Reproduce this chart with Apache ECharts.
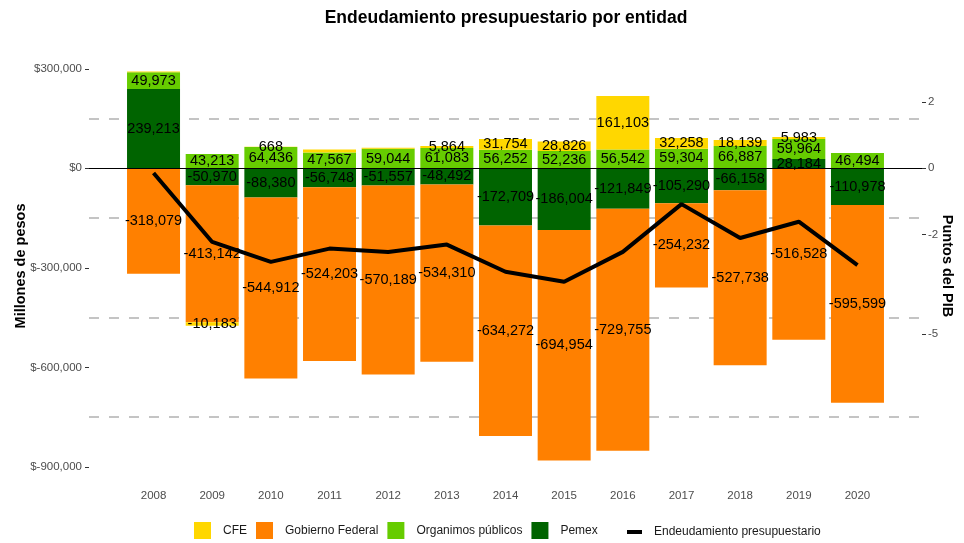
<!DOCTYPE html>
<html>
<head>
<meta charset="utf-8">
<title>Endeudamiento presupuestario por entidad</title>
<script src="https://cdn.jsdelivr.net/npm/echarts@6/dist/echarts.min.js"></script>
<style>
html, body { margin: 0; padding: 0; background: #fff; }
#chart { width: 964px; height: 543px; }
</style>
</head>
<body>
<div id="chart"></div>
<script>
// datos (millones de pesos)
var years = [2008, 2009, 2010, 2011, 2012, 2013, 2014, 2015, 2016, 2017, 2018, 2019, 2020];
var cfe = [3000, -10183, 668, 9000, 3000, 5864, 31754, 28826, 161103, 32258, 18139, 5983, '-'];
var gobierno = [-318079, -413142, -544912, -524203, -570189, -534310, -634272, -694954, -729755, -254232, -527738, -516528, -595599];
var organismos = [49973, 43213, 64436, 47567, 59044, 61083, 56252, 52236, 56542, 59304, 66887, 59964, 46494];
var pemex = [239213, -50970, -88380, -56748, -51557, -48492, -172709, -186004, -121849, -105290, -66158, 28184, -110978];
// puntos del PIB
var endeudamiento = [-0.14, -2.22, -2.82, -2.42, -2.52, -2.30, -3.12, -3.42, -2.52, -1.08, -2.10, -1.61, -2.92];
// años en que la barra de CFE no lleva etiqueta
var cfeSinEtiqueta = [2008, 2011, 2012];
var leftTicks = [-900000, -600000, -300000, 0, 300000];
var rightTicks = [-5, -2, 0, 2];

var chart = echarts.init(document.getElementById('chart'));

// valor primero, año después: asi el apilado se hace sobre el eje y
function pares(vals) {
    var out = [];
    for (var i = 0; i < years.length; i++) {
        out.push([vals[i], years[i]]);
    }
    return out;
}

function etiqueta(p) {
    var v = p.value[0];
    if (p.seriesName == 'CFE' && cfeSinEtiqueta.indexOf(p.value[1]) >= 0) return '';
    if (v === '-' || v == null) return '';
    return v.toLocaleString('en-US');
}

var fuente = 'Liberation Sans, Arial, sans-serif';

function barra(nombre, vals, color) {
    return {
        name: nombre,
        type: 'bar',
        stack: 'total',
        z: 2,
        barWidth: 53,
        encode: { x: 1, y: 0 },
        data: pares(vals),
        itemStyle: { color: color },
        label: {
            show: true,
            position: 'inside',
            formatter: etiqueta,
            color: '#000',
            fontSize: 14.5,
            fontFamily: fuente
        }
    };
}

var sPemex = barra('Pemex', pemex, '#006400');
sPemex.markLine = {
    z: 1,
    silent: true,
    symbol: ['none', 'none'],
    label: { show: false },
    lineStyle: { color: '#c4c4c4', type: [10, 10], width: 2 },
    data: [{ yAxis: 150000 }, { yAxis: -150000 }, { yAxis: -450000 }, { yAxis: -750000 }]
};
var sOrg = barra('Organimos públicos', organismos, '#66CC00');
sOrg.markLine = {
    z: 4,
    silent: true,
    symbol: ['none', 'none'],
    label: { show: false },
    lineStyle: { color: '#000', type: 'solid', width: 1.2 },
    data: [{ yAxis: 0 }]
};
var sGob = barra('Gobierno Federal', gobierno, '#FF8000');
var sCfe = barra('CFE', cfe, '#FFD700');

var textoLeyenda = { fontSize: 12, color: '#1a1a1a', fontFamily: fuente, padding: [0, 0, 0, 7] };

var option = {
    animation: false,
    textStyle: { fontFamily: fuente },
    title: {
        text: 'Endeudamiento presupuestario por entidad',
        left: 501,
        textAlign: 'center',
        top: 4,
        textStyle: { fontSize: 17.5, fontWeight: 'bold', color: '#000', fontFamily: fuente }
    },
    legend: [{
        data: ['CFE', 'Gobierno Federal', 'Organimos públicos', 'Pemex'],
        left: 189,
        top: 517,
        icon: 'rect',
        itemWidth: 17,
        itemHeight: 17,
        itemGap: 9,
        textStyle: textoLeyenda
    }, {
        data: [{ name: 'Endeudamiento presupuestario', icon: 'path://M0,0 L15,0 L15,4 L0,4 Z' }],
        left: 622,
        top: 521,
        itemWidth: 15,
        itemHeight: 17,
        textStyle: textoLeyenda
    }],
    grid: { left: 89, right: 42, top: 52, bottom: 63, outerBoundsMode: 'none' },
    xAxis: {
        type: 'value',
        min: 2006.9,
        max: 2021.1,
        axisLine: { show: true, lineStyle: { color: '#000', width: 1.2 } },
        axisTick: { show: true, customValues: years, length: 4, lineStyle: { color: '#333' } },
        axisLabel: {
            customValues: years,
            formatter: function (v) { return String(v); },
            color: '#4d4d4d',
            fontSize: 11.5,
            margin: 10
        },
        splitLine: { show: false }
    },
    yAxis: [{
        type: 'value',
        min: -939600,
        max: 350600,
        name: 'Millones de pesos',
        nameLocation: 'middle',
        nameRotate: 90,
        nameGap: 61,
        nameMoveOverlap: false,
        nameTextStyle: { fontSize: 14.5, fontWeight: 'bold', color: '#000', fontFamily: fuente },
        axisLine: { show: false },
        axisTick: { show: true, customValues: leftTicks, length: 4, lineStyle: { color: '#333' } },
        axisLabel: {
            customValues: leftTicks,
            formatter: function (v) { return '$' + v.toLocaleString('en-US'); },
            color: '#4d4d4d',
            fontSize: 11.5,
            margin: 7
        },
        splitLine: { show: false }
    }, {
        type: 'value',
        position: 'right',
        min: -9.396,
        max: 3.506,
        name: 'Puntos del PIB',
        nameLocation: 'middle',
        nameRotate: -90,
        nameGap: 17,
        nameMoveOverlap: false,
        nameTextStyle: { fontSize: 14.5, fontWeight: 'bold', color: '#000', fontFamily: fuente },
        axisLine: { show: false },
        axisTick: { show: true, customValues: rightTicks, length: 4, lineStyle: { color: '#333' } },
        axisLabel: {
            customValues: rightTicks,
            color: '#4d4d4d',
            fontSize: 11.5,
            margin: 6
        },
        splitLine: { show: false }
    }],
    series: [sPemex, sOrg, sGob, sCfe, {
        name: 'Endeudamiento presupuestario',
        type: 'line',
        yAxisIndex: 1,
        z: 6,
        symbol: 'none',
        data: years.map(function (y, i) { return [y, endeudamiento[i]]; }),
        lineStyle: { color: '#000', width: 4 },
        itemStyle: { color: '#000' }
    }]
};
chart.setOption(option);
</script>
</body>
</html>
